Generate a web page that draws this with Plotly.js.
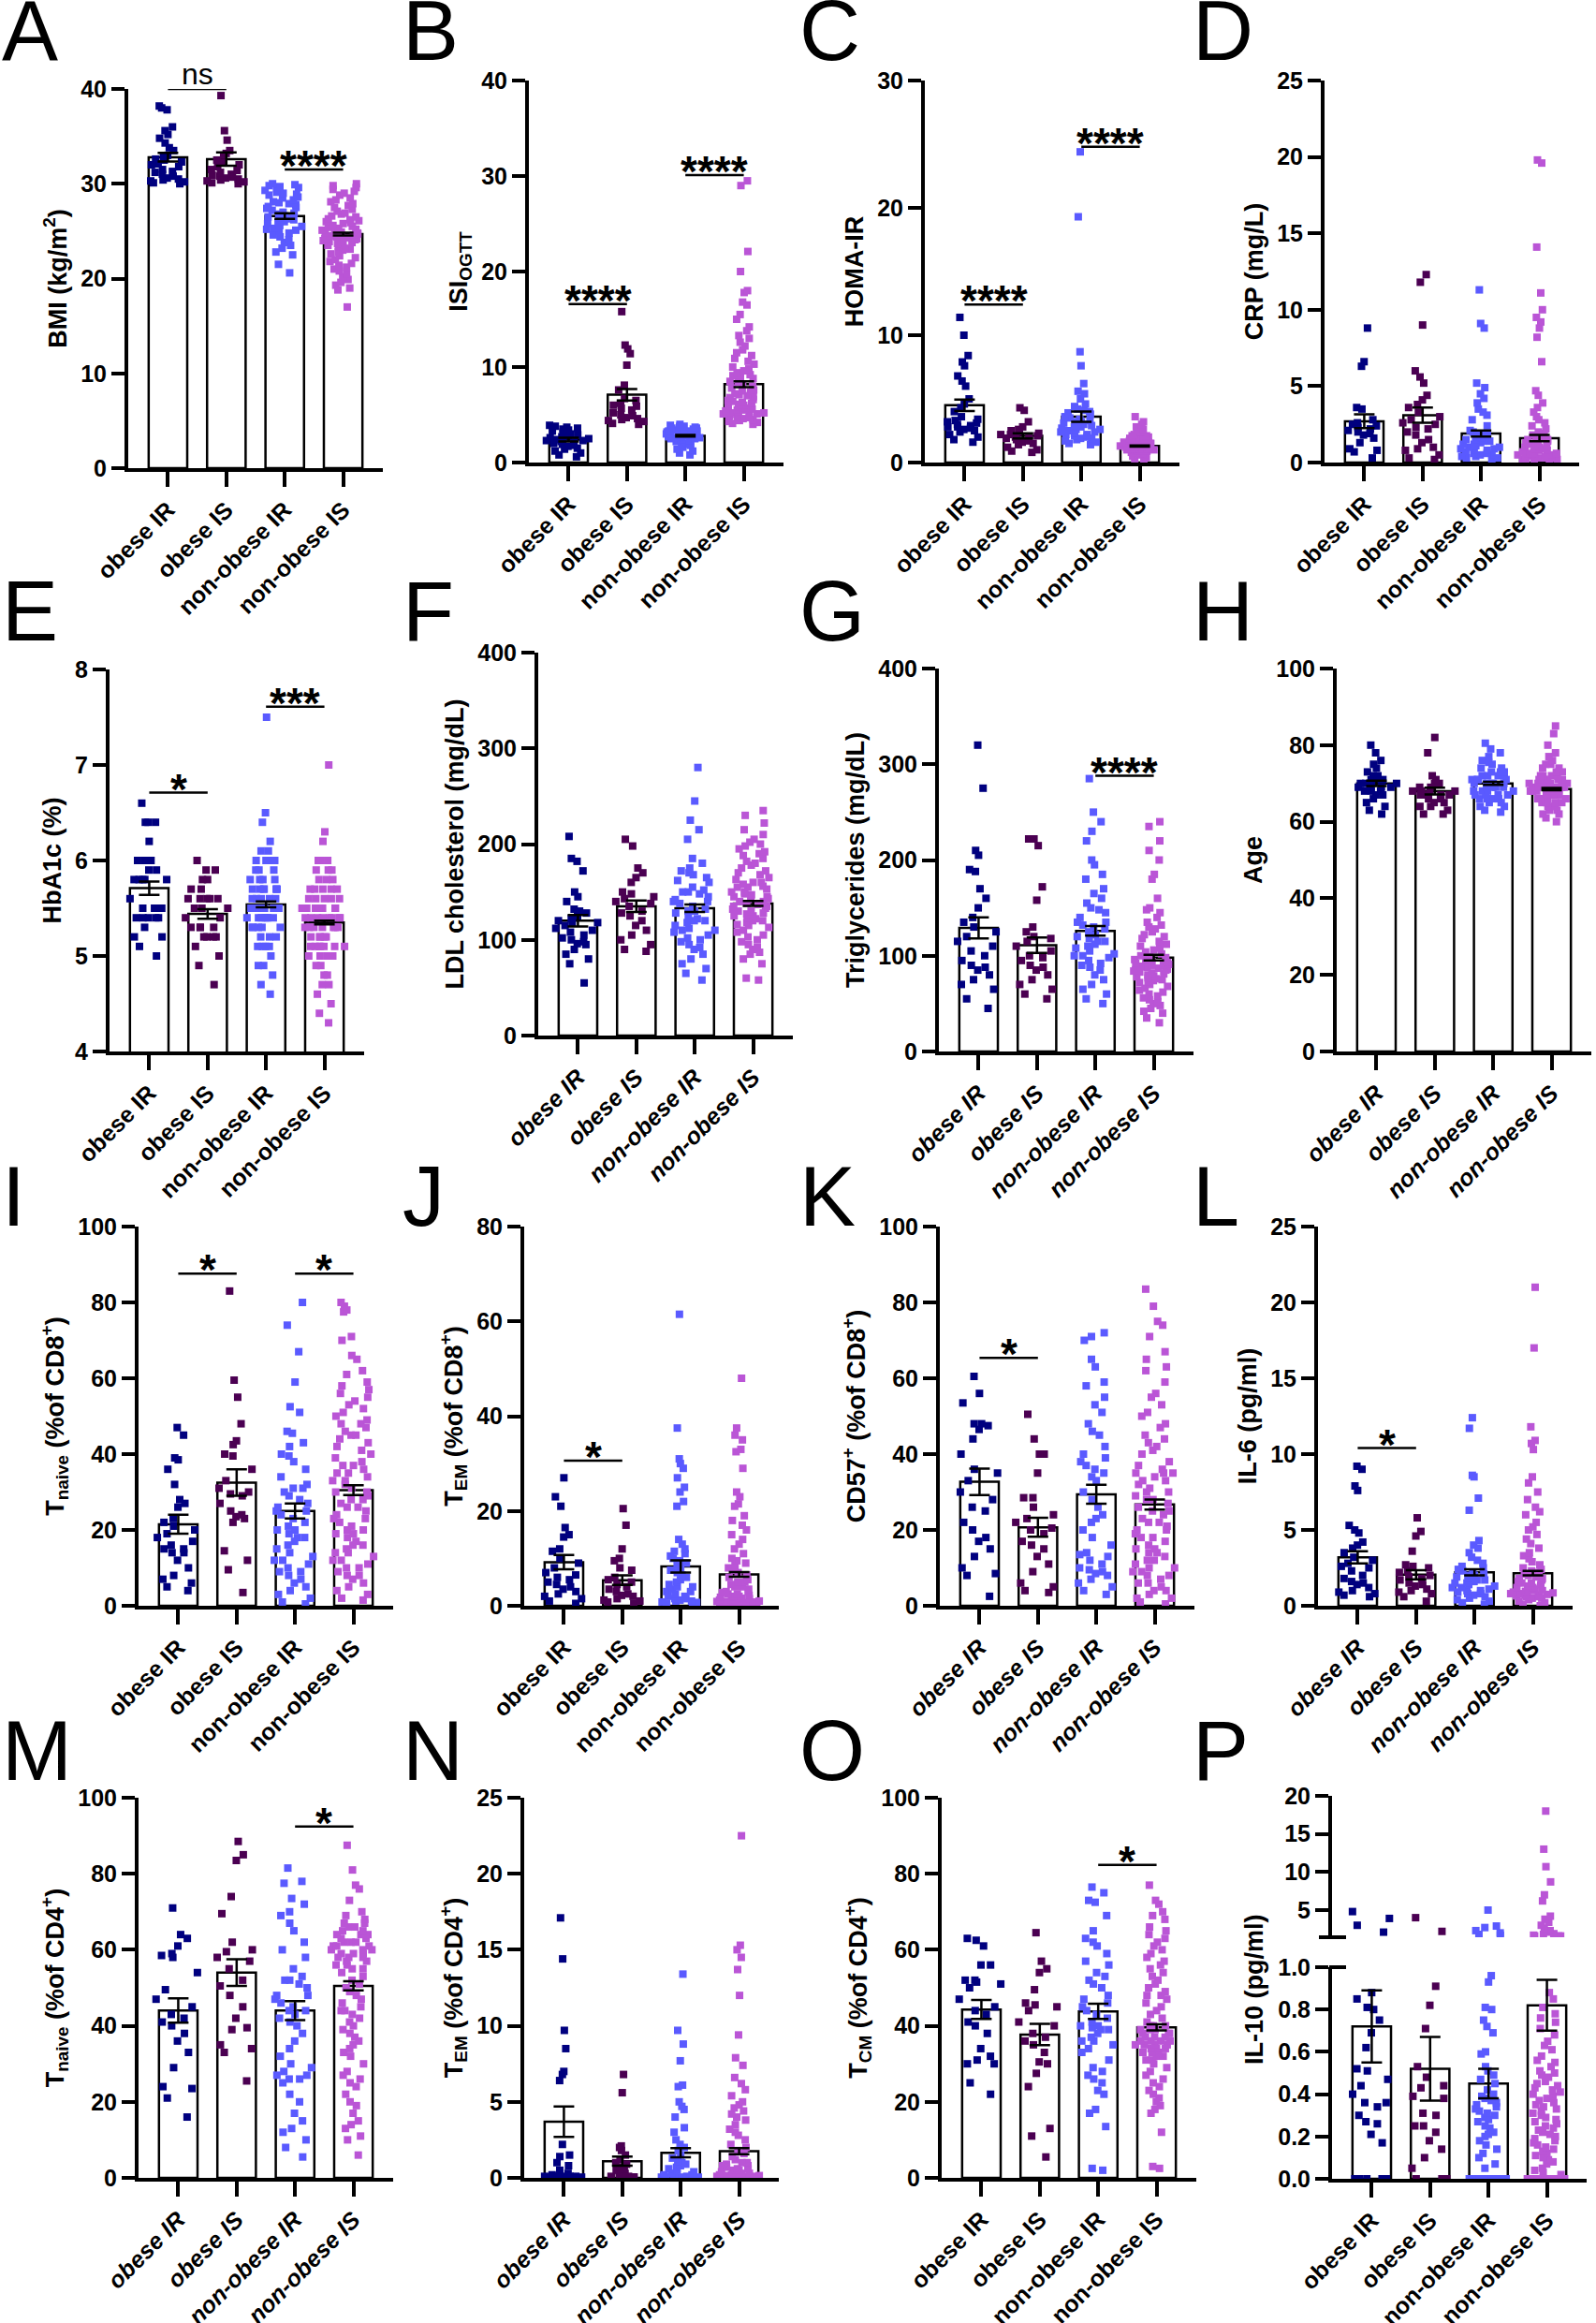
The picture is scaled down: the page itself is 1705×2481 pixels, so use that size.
<!DOCTYPE html>
<html>
<head>
<meta charset="utf-8">
<script src="https://cdn.plot.ly/plotly-3.0.1.min.js"></script>
<style>
  body { margin: 0; background: #fff; }
  #chart { width: 1705px; height: 2481px; }
</style>
</head>
<body>
<div id="chart"></div>
<script>
const W = 1705, H = 2481;
const FONT = 'Liberation Sans, Arial, sans-serif';

const groups = ['obese IR', 'obese IS', 'non-obese IR', 'non-obese IS'];
const groupColors = ['#00007F', '#4B0052', '#5A5AFF', '#BA55D6'];

// A - BMI
const bmiPts = [
  [38.2,38.0,37.8,36.0,35.6,35.2,34.8,34.3,33.5,33.0,32.8,32.6,32.5,32.3,32.0,31.8,31.5,31.3,31.0,30.8,30.6,30.5,30.3,30.2,30.1,30.0,31.2,32.1,33.8,30.4],
  [39.3,35.6,34.6,33.5,33.0,32.5,32.0,31.8,31.5,31.2,31.0,30.8,30.6,30.5,30.4,30.3,30.2,30.1,30.0,31.4,30.7,32.2,30.9,33.2],
  [30,29.9,29.8,29.6,29.5,29.3,29.1,29.0,28.8,28.6,28.5,28.3,28.1,28.0,27.8,27.6,27.5,27.4,27.2,27.0,26.9,26.8,26.6,26.5,26.4,26.2,26.0,25.9,25.8,25.6,25.5,25.3,25.2,25.0,24.8,24.6,24.4,24.1,23.8,23.5,23.2,22.8,22.5,21.5,20.6,27.9,28.9,26.3,25.1,29.7],
  [30,29.8,29.6,29.4,29.2,29.0,28.8,28.5,28.3,28.1,27.9,27.7,27.5,27.3,27.1,26.9,26.8,26.6,26.5,26.3,26.2,26.0,25.9,25.8,25.6,25.5,25.4,25.3,25.2,25.1,25.0,24.9,24.8,24.7,24.6,24.5,24.4,24.3,24.2,24.1,24.0,23.9,23.8,23.7,23.6,23.5,23.4,23.2,23.1,23.0,22.8,22.6,22.4,22.2,22.0,21.8,21.6,21.4,21.2,21.0,20.8,20.5,20.2,19.9,19.6,19.3,19.0,18.8,17.0,24.2,24.6,25.2,23.9,24.8,26.1]
];
const bmiMean = [32.8, 32.6, 26.6, 24.7];
const bmiSem = [0.45, 0.7, 0.3, 0.15];
const bmiSig = [[0, 1, 40, 'ns'], [2, 3, 31.5, '****']];

// B - ISI OGTT
const isiPts = [
  [3.9,3.8,3.7,3.6,3.5,3.4,3.3,3.2,3.0,2.9,2.8,2.7,2.6,2.5,2.4,2.3,2.2,2.1,2.0,1.9,1.8,1.7,1.5,1.4,1.2,1.0,0.8,0.6,2.5,2.3],
  [15.8,12.3,11.9,11.4,10.2,8.1,7.6,6.7,6.5,6.2,5.9,5.7,5.5,5.2,4.9,4.7,4.5,4.3,4.1,4.0,4.6,5.0,6.0,4.4],
  [4.0,3.9,3.8,3.8,3.7,3.6,3.6,3.5,3.5,3.4,3.4,3.3,3.3,3.2,3.2,3.1,3.1,3.0,3.0,3.0,2.9,2.9,2.8,2.8,2.7,2.7,2.6,2.6,2.5,2.5,2.4,2.3,2.2,2.1,2.0,1.9,1.8,1.6,1.4,1.2,1.0,0.8,3.1,3.3,2.9],
  [29.5,29.0,22.1,20.0,18.0,17.8,16.8,16.5,15.5,15.0,14.2,13.8,13.3,13.0,12.6,12.2,11.8,11.5,11.2,10.9,10.6,10.3,10.0,9.8,9.6,9.4,9.2,9.0,8.8,8.6,8.4,8.2,8.0,7.8,7.6,7.4,7.2,7.0,6.9,6.8,6.6,6.5,6.4,6.2,6.1,6.0,5.9,5.8,5.7,5.6,5.5,5.4,5.3,5.2,5.1,5.0,4.9,4.8,4.7,4.6,4.5,4.4,4.3,4.2,4.1,4.0,5.0,5.2,5.5,6.3,7.1,7.5,8.5,9.1,5.1]
];
const isiMean = [2.4, 7.1, 2.8, 8.2];
const isiSem = [0.2, 0.6, 0.08, 0.3];
const isiSig = [[0, 1, 16.6, '****'], [2, 3, 30.1, '****']];

// C - HOMA-IR
const homaPts = [
  [11.4,10.0,8.4,7.9,7.6,6.8,6.4,6.0,5.0,4.6,4.3,4.0,3.6,3.4,3.2,3.1,3.0,2.9,2.8,2.8,2.6,2.5,2.4,2.2,2.0,1.8,1.6,3.3,2.7],
  [4.3,4.1,3.2,2.8,2.5,2.4,2.3,2.2,2.1,2.0,1.9,1.8,1.7,1.6,1.5,1.4,1.2,1.0,0.9,0.8,2.2,1.9,2.6],
  [24.4,19.3,8.7,7.6,6.2,5.6,5.4,5.0,4.6,4.4,4.2,4.0,3.9,3.8,3.6,3.5,3.4,3.3,3.2,3.1,3.0,2.9,2.8,2.7,2.6,2.5,2.4,2.3,2.2,2.1,2.0,1.9,1.8,1.7,1.6,1.5,1.4,3.0,2.6,2.2,3.2,2.8,4.1,1.9,2.4],
  [3.6,3.2,3.0,2.8,2.6,2.5,2.4,2.3,2.2,2.1,2.1,2.0,2.0,1.9,1.9,1.8,1.8,1.7,1.7,1.7,1.6,1.6,1.6,1.5,1.5,1.5,1.5,1.4,1.4,1.4,1.4,1.3,1.3,1.3,1.3,1.2,1.2,1.2,1.2,1.1,1.1,1.1,1.0,1.0,1.0,0.9,0.9,0.9,0.8,0.8,0.7,0.7,0.6,0.6,0.5,0.4,0.3,0.2,1.3,1.4,1.2,1.5,1.1,1.6,1.0,1.3]
];
const homaMean = [4.5, 2.1, 3.6, 1.3];
const homaSem = [0.45, 0.2, 0.4, 0.05];
const homaSig = [[0, 1, 12.4, '****'], [2, 3, 24.8, '****']];

// D - CRP
const crpPts = [
  [8.8,6.6,6.3,3.6,3.5,2.8,2.6,2.5,2.3,2.2,2.1,2.0,1.8,1.6,1.3,0.9,0.8,0.7,0.3,2.4,1.9],
  [12.3,11.8,9.0,6.0,5.6,5.2,4.4,4.1,3.8,3.3,3.0,2.8,2.5,2.3,2.2,2.0,1.8,1.5,1.3,1.0,0.8,0.5,0.3,0.2,0.9,2.6,3.6],
  [11.3,9.1,8.8,5.2,4.9,4.5,4.2,3.9,3.5,3.3,3.1,2.8,2.4,2.1,2.0,1.9,1.8,1.7,1.6,1.5,1.4,1.3,1.2,1.1,1.0,0.9,0.8,0.7,0.6,0.5,0.4,0.3,0.2,1.5,1.2,0.9,0.6,0.4,0.3,0.8,1.0,1.4,0.5],
  [19.8,19.6,14.1,11.1,10.0,9.5,9.2,8.8,8.2,6.6,4.7,4.4,3.9,3.6,3.3,3.0,2.8,2.6,2.4,2.2,2.0,1.9,1.8,1.7,1.6,1.5,1.4,1.3,1.2,1.1,1.0,0.9,0.8,0.7,0.6,0.5,0.4,0.3,0.2,0.1,1.5,1.2,1.0,0.8,0.6,0.5,0.4,0.3,0.2,0.1,0.9,0.7,0.5,0.3,0.2,1.1,0.6,0.4]
];
const crpMean = [2.7, 3.1, 1.9, 1.6];
const crpSem = [0.45, 0.5, 0.2, 0.2];
const crpSig = [];

// E - HbA1c
const hba1cPts = [
  [6.6,6.4,6.4,6.4,6.2,6.0,6.0,6.0,5.9,5.9,5.8,5.8,5.8,5.8,5.8,5.6,5.5,5.5,5.5,5.4,5.4,5.4,5.4,5.4,5.3,5.2,5.2,5.1,5.0],
  [6.0,5.9,5.9,5.8,5.8,5.7,5.7,5.6,5.6,5.6,5.6,5.6,5.5,5.5,5.5,5.4,5.4,5.3,5.3,5.3,5.3,5.2,5.2,5.2,5.2,5.1,5.0,4.9,4.7],
  [7.5,6.5,6.4,6.2,6.1,6.1,6.0,6.0,6.0,6.0,5.9,5.9,5.9,5.8,5.8,5.8,5.8,5.7,5.7,5.7,5.7,5.7,5.7,5.7,5.6,5.6,5.6,5.6,5.6,5.5,5.5,5.5,5.5,5.5,5.5,5.4,5.4,5.4,5.4,5.4,5.4,5.4,5.3,5.3,5.3,5.3,5.3,5.2,5.2,5.2,5.1,5.1,5.1,5.1,5.0,4.9,4.9,4.8,4.7,4.6],
  [7.0,6.3,6.2,6.0,6.0,6.0,5.9,5.9,5.9,5.8,5.8,5.8,5.7,5.7,5.7,5.7,5.7,5.6,5.6,5.6,5.6,5.6,5.5,5.5,5.5,5.5,5.5,5.5,5.5,5.5,5.4,5.4,5.4,5.4,5.4,5.4,5.4,5.4,5.3,5.3,5.3,5.3,5.3,5.3,5.3,5.2,5.2,5.2,5.2,5.2,5.1,5.1,5.1,5.1,5.1,5.1,5.1,5.0,5.0,5.0,5.0,4.9,4.9,4.8,4.8,4.7,4.7,4.6,4.5,4.4,4.3]
];
const hba1cMean = [5.71, 5.44, 5.54, 5.35];
const hba1cSem = [0.07, 0.05, 0.03, 0.02];
const hba1cSig = [[0, 1, 6.71, '*'], [2, 3, 7.61, '***']];

// F - LDL cholesterol
const ldlPts = [
  [208,185,182,172,150,145,140,130,128,125,122,120,118,115,112,110,108,105,102,100,98,95,90,85,80,75,55,132,118,96],
  [205,198,175,170,165,160,150,148,145,140,138,135,130,125,120,115,110,105,100,95,90,88,143,128],
  [280,245,225,215,205,185,180,175,172,170,168,165,162,160,155,152,150,148,145,142,140,138,135,132,130,128,125,122,120,118,115,112,110,108,105,102,100,98,95,92,90,85,80,75,70,65,58,150,130,110,140,120],
  [235,230,222,215,210,205,202,200,198,195,192,190,188,185,182,180,178,175,172,170,168,165,163,160,158,156,155,153,150,148,147,145,143,142,140,138,137,135,133,132,130,128,127,125,123,122,120,118,116,115,113,110,108,105,103,100,98,95,92,90,87,85,80,75,60,58,140,150,130,145,135,125,160,120,155]
];
const ldlMean = [120, 135, 133, 138];
const ldlSem = [6, 6, 4, 2.5];
const ldlSig = [];

// G - Triglycerides
const tgPts = [
  [320,275,210,205,190,188,170,160,150,140,135,130,125,120,115,110,100,95,90,88,85,80,75,70,65,55,45,105],
  [222,222,215,172,158,130,125,120,118,115,110,105,100,98,95,90,88,85,80,75,70,65,60,55],
  [285,250,240,230,220,200,195,185,180,170,165,160,155,150,148,145,140,135,132,130,128,125,122,120,118,115,112,110,108,105,102,100,98,95,92,90,88,85,80,75,70,65,60,55,50,135,115,100],
  [240,235,220,210,200,185,180,160,150,148,145,140,135,132,130,128,125,122,120,118,115,112,110,108,106,104,102,100,99,98,97,96,95,94,93,92,91,90,89,88,87,86,85,84,83,82,81,80,79,78,77,76,75,74,73,72,70,68,66,64,62,60,58,56,54,52,50,48,45,42,40,35,30,90,85]
];
const tgMean = [129, 111, 126, 98];
const tgSem = [11, 8, 5, 3];
const tgSig = [[2, 3, 288, '****']];

// H - Age
const agePts = [
  [80,78,76,75,74,73,72,72,71,71,70,70,70,69,69,69,68,68,68,67,67,66,65,64,63,62,71,70,69],
  [82,78,72,71,70,70,69,69,68,68,68,67,67,67,66,66,65,65,64,64,63,62,62,68,67],
  [80.5,79,78,77,76,75.5,75,74,74,73,73,72,72,72,71,71,71,70,70,70,70,69,69,69,69,68,68,68,67,67,67,66,66,66,65,65,64,64,63,62.5,70,71,69,68,72,73,67,66],
  [85,83,80,78,77,76,75,75,74,74,73,73,72,72,72,71,71,71,71,70,70,70,70,70,69,69,69,69,69,68,68,68,68,68,67,67,67,67,66,66,66,66,65,65,65,64,64,64,63,63,62,62,61,60,70,69,68,71,67,72,66,68,69,70,65]
];
const ageMean = [70, 68, 70, 68.5];
const ageSem = [0.7, 0.9, 0.4, 0.3];
const ageSig = [];

// I - T naive (% of CD8+)
const cd8NaivePts = [
  [47,45,39,38.5,36,32,28,27,26,23,22,20,19,18,17,15,15,14,14,12,10,8,7,6,5,4,16,21],
  [83,59.5,55,48,43.5,42.5,40,39.5,36,33,31,30,29.5,29,27,25,24,23.5,23,22,14.5,12,9.5,3.5],
  [80,74,67,59,52.5,51,46,45.5,43,42,40,39.5,38,36,34,32,31,30,29,28,27,26,25,24,23,22,21,20,19,18,17,16,15,14,13,12,11,10,9,8,7,6,5,4,3,2,1,0.5,12,20,25,18,9,31],
  [80,79,78,77.5,71,70,66,65,62,61,59,58,57,56,55,54,53,52,51,50,49,48,47,46,45,44,43,42,41,40,39,38,37,36,35,34,33,32,31,30,29,28,27,26,25,24,23,22,21,20,19,18,17,16,15,14,13,12,11,10,9,8,7,6,5,4,3,2,1.5,48,45,37,33,30,28,23,19,16,14,10,8,35,26,20,12]
];
const cd8NaiveMean = [21.5, 32.5, 25, 30.5];
const cd8NaiveSem = [2.5, 3.5, 2, 1.3];
const cd8NaiveSig = [[0, 1, 87.6, '*'], [2, 3, 87.6, '*']];

// J - T EM (% of CD8+)
const cd8EmPts = [
  [27,23,21,16.5,15,14.5,12,11.5,10,9,8,7,6,5.5,5,4.5,4,3,2.5,2,1.5,1,0.5,6.5,3.5],
  [20.5,17,12,10,9.5,8,7.5,6,5.5,5,4.5,4,3.5,3,2.5,2,1.5,1,0.5,2.2,1.2,0.8],
  [61.5,37.5,31,30,29,27,25,24,22,21,14,13,12,11.5,11,10.5,10,9.5,9,8.5,8,7.5,7,6.5,6,5.5,5,4.5,4,3.5,3,2.5,2,1.5,1,0.8,0.5,0.3,2,1.5,1,0.7,3,4,1.2],
  [48,37.5,36,35,33,32.5,29,24,23,21.5,21,19,18,17,16,15,14,13,12,11,10,9.5,9,8.5,8,7.5,7,6.5,6,5.5,5,4.5,4,3.5,3,2.8,2.5,2.2,2,1.8,1.6,1.4,1.2,1,0.9,0.8,0.7,0.6,0.5,0.4,0.3,0.2,1.5,1.2,1,0.8,0.6,0.5,0.4,0.3,2.5,2,3,4,5,1.8,0.9,0.7]
];
const cd8EmMean = [9.2, 5.4, 8.3, 6.6];
const cd8EmSem = [1.5, 1.0, 1.3, 0.5];
const cd8EmSig = [[0, 1, 30.6, '*']];

// K - CD57+ (% of CD8+)
const cd57Pts = [
  [60.5,56,53.5,48,48,47.5,46.5,44,36,35,30,28,26,25,22,20,18,17,15,13,10,8.5,8,2.5,40,33],
  [50.5,44,40,40,35,28.5,28.5,26,24,22,20.5,20,19,17,15,13,11,9,6,5,4,3.5,16,23],
  [72,71,70,65,63,59,58,55,53,51,48,46,45,42,40,39,38,37,36,35,34,33,30,28,26,24,23,22,20,18,16,14,13,12,11,10,9,8,7,6,5,4,3,13.5,9.5,8.5],
  [83.5,79,75,74,71,67,65,63,62,59,56,55,53,51,50,48,47,45,44,43,42,41,40,38,37,36,35,35,34,33,32,31,30,29,28,27,26,25,24,23,22,21,20,19,18,17,16,15,14,13,12,11,10,9,8,7,6,5,4,3,2,1,0.5,35,30,25,20,15,12,10,8,6,4,2,28,18,14,9,33,22]
];
const cd57Mean = [32.7, 20.7, 29.4, 26.7];
const cd57Sem = [3.5, 2.5, 2.5, 1.3];
const cd57Sig = [[0, 1, 65.4, '*']];

// L - IL-6
const il6Pts = [
  [9.2,9.0,7.9,7.6,5.3,5.0,4.8,4.2,4.0,3.8,3.5,3.2,3.0,2.8,2.5,2.3,2.0,1.8,1.6,1.4,1.2,1.0,0.9,0.8,0.7,0.6,2.6,1.5],
  [5.8,4.9,4.6,3.6,2.7,2.6,2.5,2.2,2.0,1.9,1.8,1.7,1.5,1.3,1.1,1.0,0.9,0.8,0.6,0.3,1.4,2.3],
  [12.4,11.7,8.6,8.5,7.1,6.3,4.3,4.0,3.8,3.5,3.2,3.0,2.8,2.6,2.5,2.4,2.3,2.2,2.1,2.0,1.9,1.8,1.7,1.6,1.5,1.4,1.3,1.2,1.1,1.0,0.9,0.8,0.7,0.6,0.5,0.4,0.3,0.2,0.1,1.5,1.2,1.0,0.8,2.0,1.7],
  [21,17,11.8,10.9,10.7,10.3,8.5,8.1,7.5,7.0,6.5,6.2,6.0,5.5,5.2,5.0,4.7,4.4,4.1,3.8,3.5,3.3,3.1,2.9,2.7,2.5,2.3,2.2,2.1,2.0,1.9,1.8,1.7,1.6,1.5,1.4,1.3,1.2,1.1,1.0,0.95,0.9,0.85,0.8,0.75,0.7,0.65,0.6,0.5,0.4,0.3,0.2,0.1,0,1.0,0.9,0.8,1.2,1.5,0.7,0.6,1.1,2.4,1.8,0.5]
];
const il6Mean = [3.2, 2.05, 2.2, 2.15];
const il6Sem = [0.4, 0.3, 0.2, 0.15];
const il6Sig = [[0, 1, 10.4, '*']];

// M - T naive (% of CD4+)
const cd4NaivePts = [
  [71,64,63,61,59,58.5,58,54,49.5,47,45,43,41,40,38,36,33,29,24,23.5,21,16,42],
  [88.5,85,83.5,74,69.5,62,60,59.5,58,57,55,52,50.5,48,45,42,39.5,39,35,34,33,25.5],
  [81.5,78,77.5,73.5,72,70,69,67,65,62,60,58,55,53,52,51,50,48,47,46,45,44,43,42,41,40,38,36,34,32,30,29,28,27,26,25,22,20,17,15,13,12,10,8,5.5,52,48,44,27,26],
  [87.5,81,77,76,73,70,69,68,67,67,66,65,65,64,64,63,63,62,62,61,61,60,60,59,59,58,58,57,57,56,56,55,54,53,52,51,50,49,48,47,46,45,44,43,42,41,40,39,38,37,36,35,34,33,32,30,28,27,26,25,24,22,20,19,17,15,14,13,11,10,6,62,60,58,55,64,61,59,66,44]
];
const cd4NaiveMean = [44, 54, 44, 50.5];
const cd4NaiveSem = [3.2, 3.5, 2.5, 1.2];
const cd4NaiveSig = [[2, 3, 92.4, '*']];

// N - T EM (% of CD4+)
const cd4EmPts = [
  [17.1,14.4,9.7,8.5,7,6.8,6.4,2.2,1.5,1.4,1.0,0.8,0.5,0.3,0.2,0.1,0.1,0.1,0.1,0.1,0.1,0.05,0.05,0.05],
  [6.8,5.6,2.1,2.0,1.8,1.5,1.2,1.0,0.9,0.7,0.6,0.5,0.4,0.3,0.2,0.1,0.1,0.1,0.05,0.05,0.05],
  [13.4,9.7,8.8,7.7,6.1,6.0,5.0,4.7,4.5,4.0,3.3,3.0,2.5,2.2,2.0,1.8,1.5,1.3,1.1,1.0,0.9,0.8,0.7,0.6,0.5,0.4,0.3,0.2,0.2,0.1,0.1,0.1,0.1,0.05,0.05,0.05,0.05,0.05,0.05,0.05,0.05],
  [22.5,15.3,15.0,14.5,13.7,12.0,9.4,7.9,7.4,6.6,6.2,5.8,5.4,5.0,4.8,4.6,4.4,4.2,4.0,3.8,3.5,3.2,3.0,2.8,2.5,2.2,2.0,1.8,1.6,1.4,1.2,1.0,0.9,0.8,0.7,0.6,0.5,0.4,0.3,0.25,0.2,0.15,0.1,0.1,0.1,0.1,0.05,0.05,0.05,0.05,0.05,0.05,0.05,0.05,0.05,0.05,0.3,0.2,0.2,0.15,0.5,0.4,1.0,0.8,0.6]
];
const cd4EmMean = [3.7, 1.1, 1.65, 1.75];
const cd4EmSem = [1.0, 0.3, 0.3, 0.2];
const cd4EmSig = [];

// O - T CM (% of CD4+)
const cd4CmPts = [
  [63,62.5,61,56,56,52,52,51.5,51,50,47,45,43,41,40,38,34,32,31,30,30,25,22,44],
  [64.5,57,55,54,49.5,46,45.5,45,44,41,40,38,36,35,33,30.5,30,27.5,24,13,11,5.5,37],
  [76.5,75,73,72.5,69,65,63,62,61,59,57,56,54,53,52,51,50,48,47,46,45,44,43,42,41,40,39.5,39,38,37,36,35,34,33,31,29,28,27,26,25,23,22,18,17,13.5,2.5,2,40,39,36],
  [77,73,72,70,69,68,66,65,64,63,62,61,60,59,58,57,56,55,54,53,52,51,50,49,48,48,47,46,45,44,43,42,41,40,40,39,39,38,38,37,37,36,36,36,35,35,35,34,34,33,33,32,32,31,31,30,29,28,27,26,25,24,23,22,21,20,19,18,17,12,3,2.5,36,35,38,34,37,33,40,39]
];
const cd4CmMean = [44.3, 37.7, 43.8, 39.6];
const cd4CmSem = [2.5, 2.8, 2.0, 0.8];
const cd4CmSig = [[2, 3, 82.3, '*']];

// P - IL-10 (broken axis)
const il10Pts = [
  [4.8,3.9,3.0,2.1,0.88,0.85,0.81,0.80,0.75,0.69,0.62,0.52,0.51,0.47,0.44,0.40,0.36,0.36,0.34,0.30,0.27,0.26,0.21,0.17,0,0,0,0,0],
  [4.0,2.2,0.91,0.82,0.71,0.53,0.48,0.44,0.43,0.39,0.38,0.31,0.30,0.25,0.25,0.22,0.18,0.14,0.10,0.05,0,0,0],
  [5.0,2.9,2.7,2.3,2.0,1.8,1.7,0.96,0.93,0.81,0.80,0.75,0.72,0.69,0.60,0.59,0.53,0.51,0.49,0.47,0.45,0.42,0.40,0.39,0.38,0.37,0.36,0.35,0.34,0.33,0.32,0.31,0.30,0.29,0.28,0.27,0.25,0.24,0.22,0.21,0.20,0.18,0.16,0.14,0.12,0.10,0.07,0.05,0,0,0,0,0,0,0,0,0,0,0],
  [18,13,10.7,8.7,7,6.2,4.2,3.8,3.4,3.0,2.6,2.3,2.1,1.9,1.8,1.7,1.6,1.6,1.6,0.88,0.85,0.81,0.78,0.76,0.74,0.71,0.68,0.65,0.63,0.61,0.58,0.56,0.55,0.53,0.51,0.50,0.49,0.48,0.46,0.45,0.44,0.43,0.42,0.41,0.40,0.39,0.38,0.37,0.36,0.35,0.34,0.33,0.32,0.31,0.30,0.29,0.28,0.27,0.26,0.25,0.24,0.23,0.22,0.21,0.20,0.19,0.18,0.17,0.16,0.15,0.14,0.13,0.12,0.11,0.10,0.09,0.08,0.07,0.05,0.04,0.03,0.02,0,0,0,0,0,0,0,0,0,0,0,0,0,0,0]
];
const il10Mean = [0.72, 0.52, 0.45, 0.82];
const il10Sem = [0.17, 0.15, 0.07, 0.12];
const il10Sig = [];

// panel placement in page pixels: y-axis x, top-tick y, zero y
const panels = [
  {letter: 'A', pts: bmiPts, mean: bmiMean, sem: bmiSem, sig: bmiSig, title: 'BMI (kg/m<sup>2</sup>)', ticks: [0, 10, 20, 30, 40], ax: 137, top: 95, zero: 500},
  {letter: 'B', pts: isiPts, mean: isiMean, sem: isiSem, sig: isiSig, title: 'ISI<sub>OGTT</sub>', ticks: [0, 10, 20, 30, 40], ax: 565, top: 86, zero: 494},
  {letter: 'C', pts: homaPts, mean: homaMean, sem: homaSem, sig: homaSig, title: 'HOMA-IR', ticks: [0, 10, 20, 30], ax: 988, top: 86, zero: 494},
  {letter: 'D', pts: crpPts, mean: crpMean, sem: crpSem, sig: crpSig, title: 'CRP (mg/L)', ticks: [0, 5, 10, 15, 20, 25], ax: 1415, top: 86, zero: 494},
  {letter: 'E', pts: hba1cPts, mean: hba1cMean, sem: hba1cSem, sig: hba1cSig, title: 'HbA1c (%)', ticks: [4, 5, 6, 7, 8], ax: 117, top: 715, zero: 1123},
  {letter: 'F', pts: ldlPts, mean: ldlMean, sem: ldlSem, sig: ldlSig, title: 'LDL cholesterol (mg/dL)', ticks: [0, 100, 200, 300, 400], ax: 575, top: 697, zero: 1106, italic: true},
  {letter: 'G', pts: tgPts, mean: tgMean, sem: tgSem, sig: tgSig, title: 'Triglycerides (mg/dL)', ticks: [0, 100, 200, 300, 400], ax: 1003, top: 714, zero: 1123, italic: true},
  {letter: 'H', pts: agePts, mean: ageMean, sem: ageSem, sig: ageSig, title: 'Age', ticks: [0, 20, 40, 60, 80, 100], ax: 1428, top: 714, zero: 1123, italic: true},
  {letter: 'I', pts: cd8NaivePts, mean: cd8NaiveMean, sem: cd8NaiveSem, sig: cd8NaiveSig, title: 'T<sub>naive</sub> (%of CD8<sup>+</sup>)', ticks: [0, 20, 40, 60, 80, 100], ax: 148, top: 1310, zero: 1715},
  {letter: 'J', pts: cd8EmPts, mean: cd8EmMean, sem: cd8EmSem, sig: cd8EmSig, title: 'T<sub>EM</sub> (%of CD8<sup>+</sup>)', ticks: [0, 20, 40, 60, 80], ax: 560, top: 1310, zero: 1715},
  {letter: 'K', pts: cd57Pts, mean: cd57Mean, sem: cd57Sem, sig: cd57Sig, title: 'CD57<sup>+</sup> (%of CD8<sup>+</sup>)', ticks: [0, 20, 40, 60, 80, 100], ax: 1004, top: 1310, zero: 1715, italic: true},
  {letter: 'L', pts: il6Pts, mean: il6Mean, sem: il6Sem, sig: il6Sig, title: 'IL-6 (pg/ml)', ticks: [0, 5, 10, 15, 20, 25], ax: 1408, top: 1310, zero: 1715, italic: true},
  {letter: 'M', pts: cd4NaivePts, mean: cd4NaiveMean, sem: cd4NaiveSem, sig: cd4NaiveSig, title: 'T<sub>naive</sub> (%of CD4<sup>+</sup>)', ticks: [0, 20, 40, 60, 80, 100], ax: 148, top: 1920, zero: 2326, italic: true},
  {letter: 'N', pts: cd4EmPts, mean: cd4EmMean, sem: cd4EmSem, sig: cd4EmSig, title: 'T<sub>EM</sub> (%of CD4<sup>+</sup>)', ticks: [0, 5, 10, 15, 20, 25], ax: 560, top: 1920, zero: 2326, italic: true},
  {letter: 'O', pts: cd4CmPts, mean: cd4CmMean, sem: cd4CmSem, sig: cd4CmSig, title: 'T<sub>CM</sub> (%of CD4<sup>+</sup>)', ticks: [0, 20, 40, 60, 80, 100], ax: 1006, top: 1920, zero: 2326},
  {letter: 'P', pts: il10Pts, mean: il10Mean, sem: il10Sem, sig: il10Sig, title: '', ticks: [0, 0.2, 0.4, 0.6, 0.8, 1.0], ax: 1423, top: 2101, zero: 2327, broken: true}
];

const letterX = [0, 428, 852, 1272];
const letterY = [33, 653, 1278, 1870];

const data = [];
const shapes = [];
const annotations = [];
const layout = {
  width: W, height: H,
  margin: {l: 0, r: 0, t: 0, b: 0},
  paper_bgcolor: '#fff', plot_bgcolor: 'rgba(0,0,0,0)',
  showlegend: false,
  boxmode: 'overlay',
  font: {family: FONT, color: '#000'},
  shapes: shapes,
  annotations: annotations
};

const bold = s => '<b>' + s + '</b>';

function yAxisStyle(extra) {
  return Object.assign({
    showline: true, linewidth: 4, linecolor: '#000',
    ticks: 'outside', ticklen: 14, tickwidth: 4, tickcolor: '#000',
    tickfont: {family: FONT, size: 25, color: '#000'},
    showgrid: false, zeroline: false, fixedrange: true
  }, extra);
}

function addPoints(vals, g, xr, yr) {
  if (!vals.length) return;
  data.push({
    type: 'box', x0: g, y: vals, xaxis: xr, yaxis: yr,
    boxpoints: 'all', jitter: 1, pointpos: 0, width: 0.78,
    line: {width: 0, color: 'rgba(0,0,0,0)'}, fillcolor: 'rgba(0,0,0,0)', whiskerwidth: 0,
    marker: {symbol: 'square', size: 8, color: groupColors[g], line: {width: 0}},
    hoverinfo: 'skip'
  });
}

panels.forEach((p, k) => {
  const n = k + 1;
  const sfx = n === 1 ? '' : String(n);
  const xr = 'x' + sfx, yr = 'y' + sfx;
  const row = Math.floor(k / 4), col = k % 4;

  layout['xaxis' + sfx] = {
    domain: [p.ax / W, (p.ax + 272) / W], anchor: yr,
    range: [-0.68, 3.68],
    tickvals: [0, 1, 2, 3],
    ticktext: groups.map(g => p.italic ? '<b><i>' + g + '</i></b>' : bold(g)),
    tickangle: -45,
    tickfont: {family: FONT, size: 25, color: '#000'},
    showline: true, linewidth: 4, linecolor: '#000',
    ticks: 'outside', ticklen: 16, tickwidth: 4, tickcolor: '#000',
    showgrid: false, zeroline: false, fixedrange: true
  };
  layout['yaxis' + sfx] = yAxisStyle({
    domain: [1 - p.zero / H, 1 - p.top / H], anchor: xr,
    range: [p.ticks[0], p.ticks[p.ticks.length - 1]],
    tickvals: p.ticks,
    ticktext: p.ticks.map(v => bold(p.broken ? v.toFixed(1) : String(v))),
    title: p.title ? {text: bold(p.title), font: {family: FONT, size: 27, color: '#000'}, standoff: 8} : undefined
  });

  // bars (mean)
  data.push({
    type: 'bar', x: [0, 1, 2, 3], y: p.mean, width: 0.66, xaxis: xr, yaxis: yr,
    marker: {color: '#fff', line: {color: '#000', width: 2.5}}, hoverinfo: 'skip'
  });

  // individual values
  if (p.broken) {
    layout.yaxis17 = yAxisStyle({
      domain: [1 - 2069 / H, 1 - 1918 / H], anchor: xr,
      range: [1.43, 20], tickvals: [5, 10, 15, 20],
      ticktext: ['5', '10', '15', '20'].map(bold)
    });
    p.pts.forEach((vals, g) => {
      addPoints(vals.filter(v => v <= 1), g, xr, yr);
      addPoints(vals.filter(v => v > 1), g, xr, 'y17');
    });
    // axis break marks
    shapes.push({type: 'line', xref: 'paper', yref: 'paper', x0: 1409 / W, x1: 1438 / W, y0: 1 - 2069 / H, y1: 1 - 2069 / H, line: {color: '#000', width: 4}});
    shapes.push({type: 'line', xref: 'paper', yref: 'paper', x0: 1420 / W, x1: 1438 / W, y0: 1 - 2101 / H, y1: 1 - 2101 / H, line: {color: '#000', width: 4}});
    annotations.push({
      xref: 'paper', yref: 'paper', x: 1340 / W, y: 1 - 2125 / H, textangle: -90,
      text: bold('IL-10 (pg/ml)'), showarrow: false, xanchor: 'center', yanchor: 'middle',
      font: {family: FONT, size: 27, color: '#000'}
    });
  } else {
    p.pts.forEach((vals, g) => addPoints(vals, g, xr, yr));
  }

  // SEM error bars on top of the points
  data.push({
    type: 'scatter', mode: 'markers', x: [0, 1, 2, 3], y: p.mean, xaxis: xr, yaxis: yr,
    marker: {size: 2, opacity: 0},
    error_y: {type: 'data', array: p.sem, visible: true, color: '#000', thickness: 2.5, width: 11},
    hoverinfo: 'skip'
  });

  // significance brackets
  p.sig.forEach(([i, j, y, txt]) => {
    shapes.push({type: 'line', xref: xr, yref: yr, x0: i, x1: j, y0: y, y1: y, line: {color: '#000', width: 2.5}});
    const isNs = txt === 'ns';
    annotations.push({
      xref: xr, yref: yr, x: (i + j) / 2, y: y, text: isNs ? txt : bold(txt), showarrow: false,
      xanchor: 'center', yanchor: 'bottom', yshift: isNs ? -4 : -24,
      font: {family: FONT, size: isNs ? 32 : 46, color: '#000'}
    });
  });

  // panel letter
  annotations.push({
    xref: 'paper', yref: 'paper', x: letterX[col] / W, y: 1 - letterY[row] / H,
    text: p.letter, showarrow: false, xanchor: 'left', yanchor: 'middle',
    font: {family: FONT, size: 90, color: '#000'}
  });
});

Plotly.newPlot('chart', data, layout, {staticPlot: true});
</script>
</body>
</html>
